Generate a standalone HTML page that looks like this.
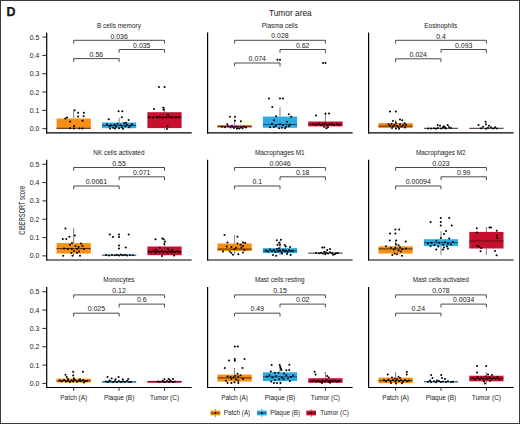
<!DOCTYPE html>
<html><head><meta charset="utf-8"><style>
html,body{margin:0;padding:0;background:#fff;}
body{width:520px;height:424px;overflow:hidden;position:relative;}
svg{position:absolute;left:0;top:0;display:block;}
text{font-family:"Liberation Sans",sans-serif;fill:#1a1a1a;}
</style></head><body>
<svg width="520" height="424" viewBox="0 0 520 424">
<g opacity="0.999">
<rect x="0.5" y="0.5" width="519" height="423" fill="#fff" stroke="#3a3a3a" stroke-width="1"/>
<text x="6.5" y="15.85" font-size="12.4" font-weight="bold" fill="#000" stroke="#000" stroke-width="0.25">D</text>
<text x="290.3" y="15.7" font-size="8.35" text-anchor="middle">Tumor area</text>
<text transform="translate(24.6,210.3) rotate(-90)" font-size="9.6" text-anchor="middle" textLength="48.8" lengthAdjust="spacingAndGlyphs">CIBERSORT score</text>
<text x="118.90" y="27.60" font-size="6.45" text-anchor="middle">B cells memory</text>
<line x1="73.70" y1="110.10" x2="73.70" y2="118.50" stroke="#111" stroke-width="0.55"/>
<line x1="73.70" y1="128.70" x2="73.70" y2="128.70" stroke="#111" stroke-width="0.55"/>
<rect x="56.60" y="118.50" width="34.2" height="10.20" fill="#F68F14"/>
<line x1="56.60" y1="128.30" x2="90.80" y2="128.30" stroke="#4a2400" stroke-width="0.95"/>
<line x1="119.10" y1="117.90" x2="119.10" y2="122.50" stroke="#111" stroke-width="0.55"/>
<line x1="119.10" y1="128.20" x2="119.10" y2="128.60" stroke="#111" stroke-width="0.55"/>
<rect x="102.00" y="122.50" width="34.2" height="5.70" fill="#2BABE2"/>
<line x1="102.00" y1="125.50" x2="136.20" y2="125.50" stroke="#0f4560" stroke-width="0.95"/>
<line x1="164.50" y1="107.30" x2="164.50" y2="112.20" stroke="#111" stroke-width="0.55"/>
<line x1="164.50" y1="128.10" x2="164.50" y2="129.50" stroke="#111" stroke-width="0.55"/>
<rect x="147.40" y="112.20" width="34.2" height="15.90" fill="#C8102E"/>
<line x1="147.40" y1="117.30" x2="181.60" y2="117.30" stroke="#5e0818" stroke-width="0.95"/>
<circle cx="65.3" cy="118.4" r="1.02"/>
<circle cx="67.0" cy="117.6" r="1.02"/>
<circle cx="74.6" cy="110.2" r="1.02"/>
<circle cx="78.1" cy="112.7" r="1.02"/>
<circle cx="83.9" cy="112.7" r="1.02"/>
<circle cx="78.1" cy="116.4" r="1.02"/>
<circle cx="83.7" cy="116.2" r="1.02"/>
<circle cx="70.1" cy="121.4" r="1.02"/>
<circle cx="82.5" cy="120.8" r="1.02"/>
<circle cx="74.1" cy="126.0" r="1.02"/>
<circle cx="70.1" cy="128.2" r="1.02"/>
<circle cx="74.0" cy="128.6" r="1.02"/>
<circle cx="79.4" cy="128.6" r="1.02"/>
<circle cx="82.5" cy="128.6" r="1.02"/>
<circle cx="118.6" cy="111.3" r="1.02"/>
<circle cx="122.3" cy="111.3" r="1.02"/>
<circle cx="108.8" cy="119.3" r="1.02"/>
<circle cx="121.9" cy="117.3" r="1.02"/>
<circle cx="128.6" cy="119.9" r="1.02"/>
<circle cx="107.0" cy="124.3" r="1.02"/>
<circle cx="109.5" cy="126.3" r="1.02"/>
<circle cx="111.0" cy="125.3" r="1.02"/>
<circle cx="113.0" cy="127.8" r="1.02"/>
<circle cx="114.5" cy="124.8" r="1.02"/>
<circle cx="116.0" cy="126.8" r="1.02"/>
<circle cx="117.5" cy="123.8" r="1.02"/>
<circle cx="119.0" cy="128.3" r="1.02"/>
<circle cx="120.5" cy="125.3" r="1.02"/>
<circle cx="122.0" cy="127.3" r="1.02"/>
<circle cx="124.0" cy="123.3" r="1.02"/>
<circle cx="125.5" cy="126.3" r="1.02"/>
<circle cx="127.0" cy="124.8" r="1.02"/>
<circle cx="129.0" cy="127.3" r="1.02"/>
<circle cx="130.5" cy="125.8" r="1.02"/>
<circle cx="132.0" cy="124.3" r="1.02"/>
<circle cx="110.0" cy="128.5" r="1.02"/>
<circle cx="115.0" cy="128.6" r="1.02"/>
<circle cx="123.0" cy="128.8" r="1.02"/>
<circle cx="126.0" cy="122.8" r="1.02"/>
<circle cx="159.0" cy="87.0" r="1.02"/>
<circle cx="164.6" cy="87.0" r="1.02"/>
<circle cx="154.0" cy="108.9" r="1.02"/>
<circle cx="163.2" cy="107.8" r="1.02"/>
<circle cx="163.6" cy="109.7" r="1.02"/>
<circle cx="168.0" cy="114.7" r="1.02"/>
<circle cx="167.5" cy="126.3" r="1.02"/>
<circle cx="167.0" cy="128.9" r="1.02"/>
<circle cx="149.0" cy="117.3" r="1.02"/>
<circle cx="153.0" cy="117.6" r="1.02"/>
<circle cx="157.0" cy="117.3" r="1.02"/>
<circle cx="160.0" cy="116.9" r="1.02"/>
<circle cx="163.0" cy="117.7" r="1.02"/>
<circle cx="166.0" cy="117.3" r="1.02"/>
<circle cx="170.0" cy="116.8" r="1.02"/>
<circle cx="172.5" cy="117.5" r="1.02"/>
<circle cx="176.0" cy="117.3" r="1.02"/>
<circle cx="179.0" cy="117.3" r="1.02"/>
<path d="M73.70 43.60V40.30H164.50V43.60" fill="none" stroke="#2a2a2a" stroke-width="0.85"/>
<text x="119.10" y="38.70" font-size="6.5" text-anchor="middle" textLength="17.39" lengthAdjust="spacingAndGlyphs">0.036</text>
<path d="M119.10 52.80V49.50H164.50V52.80" fill="none" stroke="#2a2a2a" stroke-width="0.85"/>
<text x="141.80" y="47.90" font-size="6.5" text-anchor="middle" textLength="17.39" lengthAdjust="spacingAndGlyphs">0.035</text>
<path d="M73.70 61.90V58.60H119.10V61.90" fill="none" stroke="#2a2a2a" stroke-width="0.85"/>
<text x="96.40" y="56.70" font-size="6.5" text-anchor="middle" textLength="13.52" lengthAdjust="spacingAndGlyphs">0.56</text>
<line x1="46.70" y1="32.50" x2="46.70" y2="133.40" stroke="#000" stroke-width="1.2"/>
<line x1="46.10" y1="132.80" x2="191.70" y2="132.80" stroke="#000" stroke-width="1.2"/>
<line x1="42.40" y1="128.70" x2="46.70" y2="128.70" stroke="#000" stroke-width="0.85"/>
<text x="39.30" y="131.20" font-size="6.9" text-anchor="end">0.0</text>
<line x1="42.40" y1="110.37" x2="46.70" y2="110.37" stroke="#000" stroke-width="0.85"/>
<text x="39.30" y="112.87" font-size="6.9" text-anchor="end">0.1</text>
<line x1="42.40" y1="92.04" x2="46.70" y2="92.04" stroke="#000" stroke-width="0.85"/>
<text x="39.30" y="94.54" font-size="6.9" text-anchor="end">0.2</text>
<line x1="42.40" y1="73.71" x2="46.70" y2="73.71" stroke="#000" stroke-width="0.85"/>
<text x="39.30" y="76.21" font-size="6.9" text-anchor="end">0.3</text>
<line x1="42.40" y1="55.38" x2="46.70" y2="55.38" stroke="#000" stroke-width="0.85"/>
<text x="39.30" y="57.88" font-size="6.9" text-anchor="end">0.4</text>
<line x1="42.40" y1="37.05" x2="46.70" y2="37.05" stroke="#000" stroke-width="0.85"/>
<text x="39.30" y="39.55" font-size="6.9" text-anchor="end">0.5</text>
<text x="279.80" y="27.60" font-size="6.45" text-anchor="middle">Plasma cells</text>
<line x1="234.60" y1="119.30" x2="234.60" y2="125.00" stroke="#111" stroke-width="0.55"/>
<line x1="234.60" y1="127.80" x2="234.60" y2="128.30" stroke="#111" stroke-width="0.55"/>
<rect x="217.50" y="125.00" width="34.2" height="2.80" fill="#F68F14"/>
<line x1="217.50" y1="126.40" x2="251.70" y2="126.40" stroke="#4a2400" stroke-width="0.95"/>
<line x1="280.00" y1="107.10" x2="280.00" y2="116.60" stroke="#111" stroke-width="0.55"/>
<line x1="280.00" y1="127.80" x2="280.00" y2="128.60" stroke="#111" stroke-width="0.55"/>
<rect x="262.90" y="116.60" width="34.2" height="11.20" fill="#2BABE2"/>
<line x1="262.90" y1="124.50" x2="297.10" y2="124.50" stroke="#0f4560" stroke-width="0.95"/>
<line x1="325.40" y1="113.60" x2="325.40" y2="121.50" stroke="#111" stroke-width="0.55"/>
<line x1="325.40" y1="126.40" x2="325.40" y2="128.50" stroke="#111" stroke-width="0.55"/>
<rect x="308.30" y="121.50" width="34.2" height="4.90" fill="#C8102E"/>
<line x1="308.30" y1="124.30" x2="342.50" y2="124.30" stroke="#5e0818" stroke-width="0.95"/>
<circle cx="230.0" cy="116.8" r="1.02"/>
<circle cx="235.0" cy="116.8" r="1.02"/>
<circle cx="235.0" cy="120.7" r="1.02"/>
<circle cx="240.9" cy="121.3" r="1.02"/>
<circle cx="227.3" cy="124.3" r="1.02"/>
<circle cx="222.0" cy="126.8" r="1.02"/>
<circle cx="225.0" cy="127.3" r="1.02"/>
<circle cx="228.0" cy="126.3" r="1.02"/>
<circle cx="230.5" cy="127.6" r="1.02"/>
<circle cx="232.0" cy="125.8" r="1.02"/>
<circle cx="234.0" cy="128.1" r="1.02"/>
<circle cx="236.0" cy="126.7" r="1.02"/>
<circle cx="238.0" cy="127.9" r="1.02"/>
<circle cx="239.5" cy="128.5" r="1.02"/>
<circle cx="241.0" cy="127.3" r="1.02"/>
<circle cx="242.5" cy="128.3" r="1.02"/>
<circle cx="244.0" cy="126.8" r="1.02"/>
<circle cx="246.0" cy="127.5" r="1.02"/>
<circle cx="237.0" cy="128.8" r="1.02"/>
<circle cx="233.0" cy="127.1" r="1.02"/>
<circle cx="277.4" cy="59.8" r="1.02"/>
<circle cx="280.0" cy="59.8" r="1.02"/>
<circle cx="268.9" cy="98.6" r="1.02"/>
<circle cx="280.0" cy="98.6" r="1.02"/>
<circle cx="283.0" cy="98.6" r="1.02"/>
<circle cx="272.3" cy="107.1" r="1.02"/>
<circle cx="288.8" cy="114.2" r="1.02"/>
<circle cx="276.0" cy="116.3" r="1.02"/>
<circle cx="291.2" cy="116.8" r="1.02"/>
<circle cx="274.0" cy="120.3" r="1.02"/>
<circle cx="287.0" cy="121.7" r="1.02"/>
<circle cx="280.0" cy="124.3" r="1.02"/>
<circle cx="283.0" cy="124.9" r="1.02"/>
<circle cx="288.8" cy="126.3" r="1.02"/>
<circle cx="274.0" cy="127.0" r="1.02"/>
<circle cx="285.0" cy="128.3" r="1.02"/>
<circle cx="279.0" cy="128.3" r="1.02"/>
<circle cx="276.0" cy="125.8" r="1.02"/>
<circle cx="270.0" cy="127.3" r="1.02"/>
<circle cx="282.0" cy="127.8" r="1.02"/>
<circle cx="290.0" cy="124.8" r="1.02"/>
<circle cx="272.0" cy="123.8" r="1.02"/>
<circle cx="286.0" cy="126.8" r="1.02"/>
<circle cx="323.0" cy="62.9" r="1.02"/>
<circle cx="325.5" cy="62.9" r="1.02"/>
<circle cx="316.0" cy="115.6" r="1.02"/>
<circle cx="325.5" cy="113.6" r="1.02"/>
<circle cx="329.0" cy="113.6" r="1.02"/>
<circle cx="326.6" cy="128.3" r="1.02"/>
<circle cx="313.0" cy="124.3" r="1.02"/>
<circle cx="316.0" cy="124.8" r="1.02"/>
<circle cx="319.0" cy="123.8" r="1.02"/>
<circle cx="321.0" cy="125.3" r="1.02"/>
<circle cx="323.0" cy="124.3" r="1.02"/>
<circle cx="325.0" cy="123.3" r="1.02"/>
<circle cx="327.0" cy="125.5" r="1.02"/>
<circle cx="329.5" cy="124.5" r="1.02"/>
<circle cx="332.0" cy="124.1" r="1.02"/>
<circle cx="334.0" cy="125.1" r="1.02"/>
<circle cx="337.0" cy="124.3" r="1.02"/>
<circle cx="339.0" cy="124.8" r="1.02"/>
<circle cx="324.0" cy="126.8" r="1.02"/>
<circle cx="328.0" cy="127.3" r="1.02"/>
<path d="M234.60 43.60V40.30H325.40V43.60" fill="none" stroke="#2a2a2a" stroke-width="0.85"/>
<text x="280.00" y="38.30" font-size="6.5" text-anchor="middle" textLength="17.39" lengthAdjust="spacingAndGlyphs">0.028</text>
<path d="M280.00 52.80V49.50H325.40V52.80" fill="none" stroke="#2a2a2a" stroke-width="0.85"/>
<text x="302.70" y="47.90" font-size="6.5" text-anchor="middle" textLength="13.52" lengthAdjust="spacingAndGlyphs">0.62</text>
<path d="M234.60 66.30V63.00H280.00V66.30" fill="none" stroke="#2a2a2a" stroke-width="0.85"/>
<text x="257.30" y="61.00" font-size="6.5" text-anchor="middle" textLength="17.39" lengthAdjust="spacingAndGlyphs">0.074</text>
<line x1="207.60" y1="32.50" x2="207.60" y2="133.40" stroke="#000" stroke-width="1.2"/>
<line x1="207.00" y1="132.80" x2="352.60" y2="132.80" stroke="#000" stroke-width="1.2"/>
<text x="440.80" y="27.60" font-size="6.45" text-anchor="middle">Eosinophils</text>
<line x1="395.60" y1="119.80" x2="395.60" y2="123.10" stroke="#111" stroke-width="0.55"/>
<line x1="395.60" y1="128.00" x2="395.60" y2="128.60" stroke="#111" stroke-width="0.55"/>
<rect x="378.50" y="123.10" width="34.2" height="4.90" fill="#F68F14"/>
<line x1="378.50" y1="126.10" x2="412.70" y2="126.10" stroke="#4a2400" stroke-width="0.95"/>
<line x1="441.00" y1="128.30" x2="441.00" y2="128.30" stroke="#111" stroke-width="0.55"/>
<line x1="441.00" y1="128.30" x2="441.00" y2="128.30" stroke="#111" stroke-width="0.55"/>
<line x1="423.90" y1="128.30" x2="458.10" y2="128.30" stroke="#0c2230" stroke-width="0.9"/>
<line x1="486.40" y1="128.30" x2="486.40" y2="128.30" stroke="#111" stroke-width="0.55"/>
<line x1="486.40" y1="128.30" x2="486.40" y2="128.30" stroke="#111" stroke-width="0.55"/>
<line x1="469.30" y1="128.30" x2="503.50" y2="128.30" stroke="#2a060c" stroke-width="0.9"/>
<circle cx="390.0" cy="111.5" r="1.02"/>
<circle cx="395.8" cy="111.5" r="1.02"/>
<circle cx="400.0" cy="119.5" r="1.02"/>
<circle cx="402.3" cy="120.3" r="1.02"/>
<circle cx="393.0" cy="121.1" r="1.02"/>
<circle cx="404.6" cy="123.3" r="1.02"/>
<circle cx="388.5" cy="124.3" r="1.02"/>
<circle cx="390.0" cy="125.8" r="1.02"/>
<circle cx="391.5" cy="123.8" r="1.02"/>
<circle cx="393.0" cy="126.3" r="1.02"/>
<circle cx="394.5" cy="124.8" r="1.02"/>
<circle cx="396.0" cy="122.8" r="1.02"/>
<circle cx="397.0" cy="125.8" r="1.02"/>
<circle cx="398.5" cy="127.3" r="1.02"/>
<circle cx="400.0" cy="124.3" r="1.02"/>
<circle cx="401.5" cy="126.8" r="1.02"/>
<circle cx="403.0" cy="125.3" r="1.02"/>
<circle cx="405.0" cy="127.6" r="1.02"/>
<circle cx="392.0" cy="128.1" r="1.02"/>
<circle cx="396.0" cy="128.6" r="1.02"/>
<circle cx="399.0" cy="128.8" r="1.02"/>
<circle cx="406.0" cy="124.8" r="1.02"/>
<circle cx="437.7" cy="124.9" r="1.02"/>
<circle cx="447.7" cy="124.9" r="1.02"/>
<circle cx="443.7" cy="126.3" r="1.02"/>
<circle cx="440.0" cy="125.7" r="1.02"/>
<circle cx="445.0" cy="127.3" r="1.02"/>
<circle cx="428.0" cy="128.5" r="1.02"/>
<circle cx="431.0" cy="128.6" r="1.02"/>
<circle cx="434.0" cy="128.3" r="1.02"/>
<circle cx="436.0" cy="128.7" r="1.02"/>
<circle cx="438.0" cy="127.9" r="1.02"/>
<circle cx="441.0" cy="128.5" r="1.02"/>
<circle cx="443.0" cy="127.5" r="1.02"/>
<circle cx="446.0" cy="128.6" r="1.02"/>
<circle cx="449.0" cy="127.1" r="1.02"/>
<circle cx="451.0" cy="128.1" r="1.02"/>
<circle cx="485.5" cy="121.8" r="1.02"/>
<circle cx="478.5" cy="124.9" r="1.02"/>
<circle cx="489.0" cy="125.8" r="1.02"/>
<circle cx="495.0" cy="127.3" r="1.02"/>
<circle cx="486.0" cy="124.3" r="1.02"/>
<circle cx="483.0" cy="126.8" r="1.02"/>
<circle cx="488.0" cy="127.8" r="1.02"/>
<circle cx="491.0" cy="127.3" r="1.02"/>
<circle cx="493.0" cy="128.5" r="1.02"/>
<circle cx="497.0" cy="128.6" r="1.02"/>
<circle cx="481.0" cy="128.3" r="1.02"/>
<circle cx="486.0" cy="128.7" r="1.02"/>
<path d="M395.60 43.60V40.30H486.40V43.60" fill="none" stroke="#2a2a2a" stroke-width="0.85"/>
<text x="441.00" y="38.50" font-size="6.5" text-anchor="middle" textLength="9.66" lengthAdjust="spacingAndGlyphs">0.4</text>
<path d="M441.00 52.80V49.50H486.40V52.80" fill="none" stroke="#2a2a2a" stroke-width="0.85"/>
<text x="463.70" y="47.80" font-size="6.5" text-anchor="middle" textLength="17.39" lengthAdjust="spacingAndGlyphs">0.093</text>
<path d="M395.60 62.10V58.80H441.00V62.10" fill="none" stroke="#2a2a2a" stroke-width="0.85"/>
<text x="418.30" y="56.50" font-size="6.5" text-anchor="middle" textLength="17.39" lengthAdjust="spacingAndGlyphs">0.024</text>
<line x1="368.60" y1="32.50" x2="368.60" y2="133.40" stroke="#000" stroke-width="1.2"/>
<line x1="368.00" y1="132.80" x2="513.60" y2="132.80" stroke="#000" stroke-width="1.2"/>
<text x="118.90" y="154.90" font-size="6.45" text-anchor="middle">NK cells activated</text>
<line x1="73.70" y1="227.80" x2="73.70" y2="243.10" stroke="#111" stroke-width="0.55"/>
<line x1="73.70" y1="253.50" x2="73.70" y2="255.80" stroke="#111" stroke-width="0.55"/>
<rect x="56.60" y="243.10" width="34.2" height="10.40" fill="#F68F14"/>
<line x1="56.60" y1="248.60" x2="90.80" y2="248.60" stroke="#4a2400" stroke-width="0.95"/>
<line x1="119.10" y1="254.80" x2="119.10" y2="254.80" stroke="#111" stroke-width="0.55"/>
<line x1="119.10" y1="255.60" x2="119.10" y2="255.60" stroke="#111" stroke-width="0.55"/>
<rect x="102.00" y="254.75" width="34.2" height="0.90" fill="#2BABE2"/>
<line x1="102.00" y1="255.20" x2="136.20" y2="255.20" stroke="#0f4560" stroke-width="0.7"/>
<line x1="164.50" y1="240.80" x2="164.50" y2="246.50" stroke="#111" stroke-width="0.55"/>
<line x1="164.50" y1="255.20" x2="164.50" y2="255.70" stroke="#111" stroke-width="0.55"/>
<rect x="147.40" y="246.50" width="34.2" height="8.70" fill="#C8102E"/>
<line x1="147.40" y1="251.70" x2="181.60" y2="251.70" stroke="#5e0818" stroke-width="0.95"/>
<circle cx="65.5" cy="228.6" r="1.02"/>
<circle cx="74.8" cy="235.5" r="1.02"/>
<circle cx="69.4" cy="236.7" r="1.02"/>
<circle cx="62.8" cy="238.9" r="1.02"/>
<circle cx="66.3" cy="238.9" r="1.02"/>
<circle cx="72.0" cy="242.9" r="1.02"/>
<circle cx="81.0" cy="243.5" r="1.02"/>
<circle cx="70.0" cy="244.7" r="1.02"/>
<circle cx="75.5" cy="246.1" r="1.02"/>
<circle cx="78.6" cy="247.1" r="1.02"/>
<circle cx="82.5" cy="246.1" r="1.02"/>
<circle cx="64.0" cy="248.6" r="1.02"/>
<circle cx="67.8" cy="249.0" r="1.02"/>
<circle cx="71.7" cy="249.1" r="1.02"/>
<circle cx="77.0" cy="249.1" r="1.02"/>
<circle cx="84.0" cy="249.1" r="1.02"/>
<circle cx="74.0" cy="250.9" r="1.02"/>
<circle cx="79.0" cy="251.6" r="1.02"/>
<circle cx="77.0" cy="252.7" r="1.02"/>
<circle cx="71.4" cy="253.1" r="1.02"/>
<circle cx="63.2" cy="255.8" r="1.02"/>
<circle cx="72.5" cy="255.8" r="1.02"/>
<circle cx="80.0" cy="255.8" r="1.02"/>
<circle cx="109.8" cy="234.5" r="1.02"/>
<circle cx="113.0" cy="237.1" r="1.02"/>
<circle cx="119.0" cy="234.5" r="1.02"/>
<circle cx="119.0" cy="237.1" r="1.02"/>
<circle cx="128.7" cy="234.5" r="1.02"/>
<circle cx="119.0" cy="245.5" r="1.02"/>
<circle cx="119.0" cy="248.6" r="1.02"/>
<circle cx="125.8" cy="247.4" r="1.02"/>
<circle cx="106.0" cy="255.1" r="1.02"/>
<circle cx="109.0" cy="255.4" r="1.02"/>
<circle cx="112.0" cy="254.9" r="1.02"/>
<circle cx="115.0" cy="255.3" r="1.02"/>
<circle cx="117.0" cy="254.7" r="1.02"/>
<circle cx="119.0" cy="255.5" r="1.02"/>
<circle cx="121.0" cy="254.4" r="1.02"/>
<circle cx="123.0" cy="255.3" r="1.02"/>
<circle cx="125.0" cy="254.7" r="1.02"/>
<circle cx="127.0" cy="255.4" r="1.02"/>
<circle cx="130.0" cy="255.1" r="1.02"/>
<circle cx="133.0" cy="255.3" r="1.02"/>
<circle cx="155.6" cy="239.3" r="1.02"/>
<circle cx="162.3" cy="238.4" r="1.02"/>
<circle cx="163.7" cy="239.3" r="1.02"/>
<circle cx="164.3" cy="244.1" r="1.02"/>
<circle cx="165.0" cy="241.6" r="1.02"/>
<circle cx="149.5" cy="251.6" r="1.02"/>
<circle cx="151.5" cy="252.3" r="1.02"/>
<circle cx="153.5" cy="251.1" r="1.02"/>
<circle cx="155.5" cy="252.5" r="1.02"/>
<circle cx="157.5" cy="251.3" r="1.02"/>
<circle cx="159.5" cy="252.1" r="1.02"/>
<circle cx="161.5" cy="250.9" r="1.02"/>
<circle cx="163.5" cy="252.4" r="1.02"/>
<circle cx="165.5" cy="251.4" r="1.02"/>
<circle cx="167.5" cy="252.6" r="1.02"/>
<circle cx="169.5" cy="251.1" r="1.02"/>
<circle cx="171.5" cy="252.3" r="1.02"/>
<circle cx="173.5" cy="251.5" r="1.02"/>
<circle cx="175.5" cy="252.1" r="1.02"/>
<circle cx="177.5" cy="251.3" r="1.02"/>
<circle cx="179.5" cy="251.9" r="1.02"/>
<circle cx="160.0" cy="247.7" r="1.02"/>
<circle cx="168.0" cy="248.7" r="1.02"/>
<circle cx="156.0" cy="249.7" r="1.02"/>
<circle cx="172.0" cy="249.9" r="1.02"/>
<circle cx="162.0" cy="255.9" r="1.02"/>
<circle cx="174.1" cy="255.5" r="1.02"/>
<path d="M73.70 170.80V167.50H164.50V170.80" fill="none" stroke="#2a2a2a" stroke-width="0.85"/>
<text x="119.10" y="166.00" font-size="6.5" text-anchor="middle" textLength="13.52" lengthAdjust="spacingAndGlyphs">0.55</text>
<path d="M119.10 180.10V176.80H164.50V180.10" fill="none" stroke="#2a2a2a" stroke-width="0.85"/>
<text x="141.80" y="175.30" font-size="6.5" text-anchor="middle" textLength="17.39" lengthAdjust="spacingAndGlyphs">0.071</text>
<path d="M73.70 189.30V186.00H119.10V189.30" fill="none" stroke="#2a2a2a" stroke-width="0.85"/>
<text x="96.40" y="184.10" font-size="6.5" text-anchor="middle" textLength="21.25" lengthAdjust="spacingAndGlyphs">0.0061</text>
<line x1="46.70" y1="159.80" x2="46.70" y2="260.60" stroke="#000" stroke-width="1.2"/>
<line x1="46.10" y1="260.00" x2="191.70" y2="260.00" stroke="#000" stroke-width="1.2"/>
<line x1="42.40" y1="255.90" x2="46.70" y2="255.90" stroke="#000" stroke-width="0.85"/>
<text x="39.30" y="258.40" font-size="6.9" text-anchor="end">0.0</text>
<line x1="42.40" y1="237.57" x2="46.70" y2="237.57" stroke="#000" stroke-width="0.85"/>
<text x="39.30" y="240.07" font-size="6.9" text-anchor="end">0.1</text>
<line x1="42.40" y1="219.24" x2="46.70" y2="219.24" stroke="#000" stroke-width="0.85"/>
<text x="39.30" y="221.74" font-size="6.9" text-anchor="end">0.2</text>
<line x1="42.40" y1="200.91" x2="46.70" y2="200.91" stroke="#000" stroke-width="0.85"/>
<text x="39.30" y="203.41" font-size="6.9" text-anchor="end">0.3</text>
<line x1="42.40" y1="182.58" x2="46.70" y2="182.58" stroke="#000" stroke-width="0.85"/>
<text x="39.30" y="185.08" font-size="6.9" text-anchor="end">0.4</text>
<line x1="42.40" y1="164.25" x2="46.70" y2="164.25" stroke="#000" stroke-width="0.85"/>
<text x="39.30" y="166.75" font-size="6.9" text-anchor="end">0.5</text>
<text x="279.80" y="154.90" font-size="6.45" text-anchor="middle">Macrophages M1</text>
<line x1="234.60" y1="235.10" x2="234.60" y2="243.50" stroke="#111" stroke-width="0.55"/>
<line x1="234.60" y1="251.00" x2="234.60" y2="254.30" stroke="#111" stroke-width="0.55"/>
<rect x="217.50" y="243.50" width="34.2" height="7.50" fill="#F68F14"/>
<line x1="217.50" y1="249.10" x2="251.70" y2="249.10" stroke="#4a2400" stroke-width="0.95"/>
<line x1="280.00" y1="240.60" x2="280.00" y2="248.10" stroke="#111" stroke-width="0.55"/>
<line x1="280.00" y1="253.10" x2="280.00" y2="255.30" stroke="#111" stroke-width="0.55"/>
<rect x="262.90" y="248.10" width="34.2" height="5.00" fill="#2BABE2"/>
<line x1="262.90" y1="251.00" x2="297.10" y2="251.00" stroke="#0f4560" stroke-width="0.95"/>
<line x1="325.40" y1="253.10" x2="325.40" y2="253.10" stroke="#111" stroke-width="0.55"/>
<line x1="325.40" y1="253.10" x2="325.40" y2="253.10" stroke="#111" stroke-width="0.55"/>
<line x1="308.30" y1="253.10" x2="342.50" y2="253.10" stroke="#2a060c" stroke-width="0.9"/>
<circle cx="224.5" cy="235.1" r="1.02"/>
<circle cx="237.5" cy="236.7" r="1.02"/>
<circle cx="227.5" cy="242.4" r="1.02"/>
<circle cx="243.0" cy="242.4" r="1.02"/>
<circle cx="245.2" cy="243.1" r="1.02"/>
<circle cx="237.5" cy="243.5" r="1.02"/>
<circle cx="240.6" cy="244.7" r="1.02"/>
<circle cx="243.0" cy="245.9" r="1.02"/>
<circle cx="226.8" cy="246.6" r="1.02"/>
<circle cx="231.4" cy="247.1" r="1.02"/>
<circle cx="236.0" cy="247.8" r="1.02"/>
<circle cx="241.4" cy="247.8" r="1.02"/>
<circle cx="234.5" cy="249.3" r="1.02"/>
<circle cx="244.5" cy="250.1" r="1.02"/>
<circle cx="223.0" cy="251.6" r="1.02"/>
<circle cx="229.8" cy="251.6" r="1.02"/>
<circle cx="243.0" cy="252.4" r="1.02"/>
<circle cx="231.4" cy="253.1" r="1.02"/>
<circle cx="233.0" cy="254.7" r="1.02"/>
<circle cx="238.3" cy="254.3" r="1.02"/>
<circle cx="276.8" cy="240.3" r="1.02"/>
<circle cx="281.0" cy="239.7" r="1.02"/>
<circle cx="279.0" cy="242.8" r="1.02"/>
<circle cx="277.5" cy="245.1" r="1.02"/>
<circle cx="280.0" cy="244.7" r="1.02"/>
<circle cx="284.8" cy="245.1" r="1.02"/>
<circle cx="285.8" cy="246.6" r="1.02"/>
<circle cx="290.2" cy="247.1" r="1.02"/>
<circle cx="273.0" cy="255.1" r="1.02"/>
<circle cx="276.2" cy="255.7" r="1.02"/>
<circle cx="290.6" cy="255.1" r="1.02"/>
<circle cx="266.0" cy="250.6" r="1.02"/>
<circle cx="268.0" cy="251.6" r="1.02"/>
<circle cx="270.0" cy="249.6" r="1.02"/>
<circle cx="272.0" cy="251.1" r="1.02"/>
<circle cx="274.0" cy="250.1" r="1.02"/>
<circle cx="275.5" cy="252.1" r="1.02"/>
<circle cx="277.0" cy="249.1" r="1.02"/>
<circle cx="278.5" cy="251.3" r="1.02"/>
<circle cx="280.0" cy="250.3" r="1.02"/>
<circle cx="281.5" cy="252.3" r="1.02"/>
<circle cx="283.0" cy="249.7" r="1.02"/>
<circle cx="284.5" cy="251.1" r="1.02"/>
<circle cx="286.0" cy="250.5" r="1.02"/>
<circle cx="287.5" cy="252.1" r="1.02"/>
<circle cx="289.0" cy="249.9" r="1.02"/>
<circle cx="291.0" cy="251.1" r="1.02"/>
<circle cx="293.0" cy="250.7" r="1.02"/>
<circle cx="282.0" cy="253.6" r="1.02"/>
<circle cx="287.0" cy="253.9" r="1.02"/>
<circle cx="279.0" cy="248.3" r="1.02"/>
<circle cx="322.3" cy="247.4" r="1.02"/>
<circle cx="324.3" cy="247.4" r="1.02"/>
<circle cx="330.0" cy="248.9" r="1.02"/>
<circle cx="327.2" cy="249.9" r="1.02"/>
<circle cx="324.3" cy="251.8" r="1.02"/>
<circle cx="325.2" cy="254.3" r="1.02"/>
<circle cx="333.0" cy="254.7" r="1.02"/>
<circle cx="334.8" cy="254.3" r="1.02"/>
<circle cx="316.0" cy="253.1" r="1.02"/>
<circle cx="319.0" cy="253.3" r="1.02"/>
<circle cx="321.0" cy="252.7" r="1.02"/>
<circle cx="323.0" cy="253.4" r="1.02"/>
<circle cx="326.0" cy="252.6" r="1.02"/>
<circle cx="328.0" cy="253.5" r="1.02"/>
<circle cx="330.0" cy="252.3" r="1.02"/>
<circle cx="332.0" cy="253.1" r="1.02"/>
<circle cx="336.0" cy="253.3" r="1.02"/>
<circle cx="338.0" cy="252.9" r="1.02"/>
<path d="M234.60 170.80V167.50H325.40V170.80" fill="none" stroke="#2a2a2a" stroke-width="0.85"/>
<text x="280.00" y="166.00" font-size="6.5" text-anchor="middle" textLength="21.25" lengthAdjust="spacingAndGlyphs">0.0046</text>
<path d="M280.00 180.10V176.80H325.40V180.10" fill="none" stroke="#2a2a2a" stroke-width="0.85"/>
<text x="302.70" y="175.30" font-size="6.5" text-anchor="middle" textLength="13.52" lengthAdjust="spacingAndGlyphs">0.18</text>
<path d="M234.60 189.30V186.00H280.00V189.30" fill="none" stroke="#2a2a2a" stroke-width="0.85"/>
<text x="257.30" y="184.10" font-size="6.5" text-anchor="middle" textLength="9.66" lengthAdjust="spacingAndGlyphs">0.1</text>
<line x1="207.60" y1="159.80" x2="207.60" y2="260.60" stroke="#000" stroke-width="1.2"/>
<line x1="207.00" y1="260.00" x2="352.60" y2="260.00" stroke="#000" stroke-width="1.2"/>
<text x="440.80" y="154.90" font-size="6.45" text-anchor="middle">Macrophages M2</text>
<line x1="395.60" y1="239.60" x2="395.60" y2="246.30" stroke="#111" stroke-width="0.55"/>
<line x1="395.60" y1="253.50" x2="395.60" y2="254.30" stroke="#111" stroke-width="0.55"/>
<rect x="378.50" y="246.30" width="34.2" height="7.20" fill="#F68F14"/>
<line x1="378.50" y1="248.90" x2="412.70" y2="248.90" stroke="#4a2400" stroke-width="0.95"/>
<line x1="441.00" y1="231.10" x2="441.00" y2="239.20" stroke="#111" stroke-width="0.55"/>
<line x1="441.00" y1="246.10" x2="441.00" y2="254.60" stroke="#111" stroke-width="0.55"/>
<rect x="423.90" y="239.20" width="34.2" height="6.90" fill="#2BABE2"/>
<line x1="423.90" y1="242.70" x2="458.10" y2="242.70" stroke="#0f4560" stroke-width="0.95"/>
<line x1="486.40" y1="227.00" x2="486.40" y2="231.90" stroke="#111" stroke-width="0.55"/>
<line x1="486.40" y1="248.50" x2="486.40" y2="254.70" stroke="#111" stroke-width="0.55"/>
<rect x="469.30" y="231.90" width="34.2" height="16.60" fill="#C8102E"/>
<line x1="469.30" y1="241.00" x2="503.50" y2="241.00" stroke="#5e0818" stroke-width="0.95"/>
<circle cx="395.4" cy="229.6" r="1.02"/>
<circle cx="399.2" cy="229.6" r="1.02"/>
<circle cx="390.0" cy="233.5" r="1.02"/>
<circle cx="395.4" cy="233.5" r="1.02"/>
<circle cx="389.7" cy="240.4" r="1.02"/>
<circle cx="396.2" cy="240.4" r="1.02"/>
<circle cx="405.7" cy="241.6" r="1.02"/>
<circle cx="396.0" cy="244.3" r="1.02"/>
<circle cx="398.5" cy="245.3" r="1.02"/>
<circle cx="386.0" cy="246.3" r="1.02"/>
<circle cx="390.8" cy="247.8" r="1.02"/>
<circle cx="395.4" cy="247.8" r="1.02"/>
<circle cx="400.0" cy="247.3" r="1.02"/>
<circle cx="402.3" cy="249.3" r="1.02"/>
<circle cx="406.0" cy="248.4" r="1.02"/>
<circle cx="393.8" cy="249.6" r="1.02"/>
<circle cx="398.5" cy="250.4" r="1.02"/>
<circle cx="400.8" cy="251.5" r="1.02"/>
<circle cx="392.3" cy="255.1" r="1.02"/>
<circle cx="397.0" cy="254.3" r="1.02"/>
<circle cx="394.6" cy="253.5" r="1.02"/>
<circle cx="402.0" cy="255.8" r="1.02"/>
<circle cx="440.8" cy="218.1" r="1.02"/>
<circle cx="449.2" cy="218.1" r="1.02"/>
<circle cx="430.6" cy="221.9" r="1.02"/>
<circle cx="440.8" cy="221.9" r="1.02"/>
<circle cx="440.8" cy="225.4" r="1.02"/>
<circle cx="451.7" cy="225.4" r="1.02"/>
<circle cx="446.0" cy="231.1" r="1.02"/>
<circle cx="444.0" cy="234.1" r="1.02"/>
<circle cx="440.8" cy="237.9" r="1.02"/>
<circle cx="449.2" cy="238.5" r="1.02"/>
<circle cx="436.3" cy="240.8" r="1.02"/>
<circle cx="431.5" cy="242.7" r="1.02"/>
<circle cx="439.2" cy="242.7" r="1.02"/>
<circle cx="445.0" cy="242.3" r="1.02"/>
<circle cx="447.9" cy="243.7" r="1.02"/>
<circle cx="443.0" cy="244.6" r="1.02"/>
<circle cx="434.4" cy="245.1" r="1.02"/>
<circle cx="430.6" cy="246.1" r="1.02"/>
<circle cx="438.3" cy="246.6" r="1.02"/>
<circle cx="447.0" cy="246.6" r="1.02"/>
<circle cx="444.0" cy="247.5" r="1.02"/>
<circle cx="436.3" cy="249.4" r="1.02"/>
<circle cx="443.0" cy="249.4" r="1.02"/>
<circle cx="447.9" cy="248.5" r="1.02"/>
<circle cx="428.0" cy="243.6" r="1.02"/>
<circle cx="453.0" cy="242.1" r="1.02"/>
<circle cx="451.0" cy="244.6" r="1.02"/>
<circle cx="476.8" cy="228.3" r="1.02"/>
<circle cx="489.5" cy="227.4" r="1.02"/>
<circle cx="491.0" cy="227.4" r="1.02"/>
<circle cx="496.7" cy="230.8" r="1.02"/>
<circle cx="476.8" cy="232.5" r="1.02"/>
<circle cx="496.9" cy="235.4" r="1.02"/>
<circle cx="497.2" cy="238.0" r="1.02"/>
<circle cx="477.3" cy="245.8" r="1.02"/>
<circle cx="479.0" cy="246.4" r="1.02"/>
<circle cx="481.3" cy="247.9" r="1.02"/>
<circle cx="480.6" cy="251.3" r="1.02"/>
<circle cx="495.0" cy="251.1" r="1.02"/>
<circle cx="496.6" cy="255.3" r="1.02"/>
<path d="M395.60 170.80V167.50H486.40V170.80" fill="none" stroke="#2a2a2a" stroke-width="0.85"/>
<text x="441.00" y="166.00" font-size="6.5" text-anchor="middle" textLength="17.39" lengthAdjust="spacingAndGlyphs">0.023</text>
<path d="M441.00 180.10V176.80H486.40V180.10" fill="none" stroke="#2a2a2a" stroke-width="0.85"/>
<text x="463.70" y="175.30" font-size="6.5" text-anchor="middle" textLength="13.52" lengthAdjust="spacingAndGlyphs">0.99</text>
<path d="M395.60 189.30V186.00H441.00V189.30" fill="none" stroke="#2a2a2a" stroke-width="0.85"/>
<text x="418.30" y="184.10" font-size="6.5" text-anchor="middle" textLength="25.12" lengthAdjust="spacingAndGlyphs">0.00094</text>
<line x1="368.60" y1="159.80" x2="368.60" y2="260.60" stroke="#000" stroke-width="1.2"/>
<line x1="368.00" y1="260.00" x2="513.60" y2="260.00" stroke="#000" stroke-width="1.2"/>
<text x="118.90" y="282.10" font-size="6.45" text-anchor="middle">Monocytes</text>
<line x1="73.70" y1="377.10" x2="73.70" y2="378.60" stroke="#111" stroke-width="0.55"/>
<line x1="73.70" y1="382.50" x2="73.70" y2="383.10" stroke="#111" stroke-width="0.55"/>
<rect x="56.60" y="378.60" width="34.2" height="3.90" fill="#F68F14"/>
<line x1="56.60" y1="380.90" x2="90.80" y2="380.90" stroke="#4a2400" stroke-width="0.95"/>
<line x1="119.10" y1="381.20" x2="119.10" y2="381.20" stroke="#111" stroke-width="0.55"/>
<line x1="119.10" y1="382.60" x2="119.10" y2="382.60" stroke="#111" stroke-width="0.55"/>
<rect x="102.00" y="381.20" width="34.2" height="1.40" fill="#2BABE2"/>
<line x1="102.00" y1="381.90" x2="136.20" y2="381.90" stroke="#0f4560" stroke-width="0.7"/>
<line x1="164.50" y1="380.90" x2="164.50" y2="380.90" stroke="#111" stroke-width="0.55"/>
<line x1="164.50" y1="382.70" x2="164.50" y2="382.70" stroke="#111" stroke-width="0.55"/>
<rect x="147.40" y="380.90" width="34.2" height="1.80" fill="#C8102E"/>
<line x1="147.40" y1="381.80" x2="181.60" y2="381.80" stroke="#5e0818" stroke-width="0.7"/>
<circle cx="73.2" cy="371.8" r="1.02"/>
<circle cx="83.0" cy="371.8" r="1.02"/>
<circle cx="65.5" cy="374.7" r="1.02"/>
<circle cx="73.2" cy="375.5" r="1.02"/>
<circle cx="66.7" cy="377.1" r="1.02"/>
<circle cx="73.8" cy="378.6" r="1.02"/>
<circle cx="68.0" cy="378.9" r="1.02"/>
<circle cx="60.0" cy="380.6" r="1.02"/>
<circle cx="62.0" cy="381.3" r="1.02"/>
<circle cx="64.0" cy="380.1" r="1.02"/>
<circle cx="66.0" cy="381.6" r="1.02"/>
<circle cx="68.0" cy="380.7" r="1.02"/>
<circle cx="70.0" cy="381.9" r="1.02"/>
<circle cx="71.5" cy="380.3" r="1.02"/>
<circle cx="73.0" cy="381.5" r="1.02"/>
<circle cx="75.0" cy="380.1" r="1.02"/>
<circle cx="77.0" cy="381.7" r="1.02"/>
<circle cx="79.0" cy="380.5" r="1.02"/>
<circle cx="81.0" cy="381.3" r="1.02"/>
<circle cx="83.0" cy="380.1" r="1.02"/>
<circle cx="85.0" cy="381.1" r="1.02"/>
<circle cx="87.0" cy="380.9" r="1.02"/>
<circle cx="74.0" cy="379.6" r="1.02"/>
<circle cx="80.0" cy="379.3" r="1.02"/>
<circle cx="84.0" cy="382.4" r="1.02"/>
<circle cx="107.5" cy="377.1" r="1.02"/>
<circle cx="118.6" cy="377.1" r="1.02"/>
<circle cx="111.7" cy="378.6" r="1.02"/>
<circle cx="115.5" cy="379.3" r="1.02"/>
<circle cx="122.8" cy="379.3" r="1.02"/>
<circle cx="128.2" cy="378.9" r="1.02"/>
<circle cx="109.4" cy="380.5" r="1.02"/>
<circle cx="106.0" cy="381.6" r="1.02"/>
<circle cx="108.0" cy="382.1" r="1.02"/>
<circle cx="110.5" cy="381.3" r="1.02"/>
<circle cx="113.0" cy="381.9" r="1.02"/>
<circle cx="115.0" cy="380.9" r="1.02"/>
<circle cx="117.0" cy="382.1" r="1.02"/>
<circle cx="119.0" cy="381.1" r="1.02"/>
<circle cx="121.0" cy="381.9" r="1.02"/>
<circle cx="123.0" cy="381.3" r="1.02"/>
<circle cx="125.0" cy="382.1" r="1.02"/>
<circle cx="127.0" cy="380.7" r="1.02"/>
<circle cx="129.0" cy="381.7" r="1.02"/>
<circle cx="131.0" cy="381.9" r="1.02"/>
<circle cx="164.4" cy="379.3" r="1.02"/>
<circle cx="168.6" cy="378.9" r="1.02"/>
<circle cx="173.0" cy="378.9" r="1.02"/>
<circle cx="162.5" cy="380.7" r="1.02"/>
<circle cx="170.0" cy="380.3" r="1.02"/>
<circle cx="158.0" cy="381.6" r="1.02"/>
<circle cx="160.0" cy="381.9" r="1.02"/>
<circle cx="163.0" cy="381.5" r="1.02"/>
<circle cx="165.0" cy="382.1" r="1.02"/>
<circle cx="167.0" cy="381.1" r="1.02"/>
<circle cx="169.0" cy="381.9" r="1.02"/>
<circle cx="171.0" cy="381.3" r="1.02"/>
<circle cx="173.0" cy="382.1" r="1.02"/>
<circle cx="175.0" cy="381.5" r="1.02"/>
<path d="M73.70 298.20V294.90H164.50V298.20" fill="none" stroke="#2a2a2a" stroke-width="0.85"/>
<text x="119.10" y="292.70" font-size="6.5" text-anchor="middle" textLength="13.52" lengthAdjust="spacingAndGlyphs">0.12</text>
<path d="M119.10 307.40V304.10H164.50V307.40" fill="none" stroke="#2a2a2a" stroke-width="0.85"/>
<text x="141.80" y="301.80" font-size="6.5" text-anchor="middle" textLength="9.66" lengthAdjust="spacingAndGlyphs">0.6</text>
<path d="M73.70 316.50V313.20H119.10V316.50" fill="none" stroke="#2a2a2a" stroke-width="0.85"/>
<text x="96.40" y="310.90" font-size="6.5" text-anchor="middle" textLength="17.39" lengthAdjust="spacingAndGlyphs">0.025</text>
<line x1="46.70" y1="287.00" x2="46.70" y2="388.10" stroke="#000" stroke-width="1.2"/>
<line x1="46.10" y1="387.50" x2="191.70" y2="387.50" stroke="#000" stroke-width="1.2"/>
<line x1="42.40" y1="383.40" x2="46.70" y2="383.40" stroke="#000" stroke-width="0.85"/>
<text x="39.30" y="385.90" font-size="6.9" text-anchor="end">0.0</text>
<line x1="42.40" y1="365.07" x2="46.70" y2="365.07" stroke="#000" stroke-width="0.85"/>
<text x="39.30" y="367.57" font-size="6.9" text-anchor="end">0.1</text>
<line x1="42.40" y1="346.74" x2="46.70" y2="346.74" stroke="#000" stroke-width="0.85"/>
<text x="39.30" y="349.24" font-size="6.9" text-anchor="end">0.2</text>
<line x1="42.40" y1="328.41" x2="46.70" y2="328.41" stroke="#000" stroke-width="0.85"/>
<text x="39.30" y="330.91" font-size="6.9" text-anchor="end">0.3</text>
<line x1="42.40" y1="310.08" x2="46.70" y2="310.08" stroke="#000" stroke-width="0.85"/>
<text x="39.30" y="312.58" font-size="6.9" text-anchor="end">0.4</text>
<line x1="42.40" y1="291.75" x2="46.70" y2="291.75" stroke="#000" stroke-width="0.85"/>
<text x="39.30" y="294.25" font-size="6.9" text-anchor="end">0.5</text>
<line x1="73.70" y1="387.50" x2="73.70" y2="390.80" stroke="#000" stroke-width="0.8"/>
<text x="73.70" y="400.40" font-size="6.45" text-anchor="middle">Patch (A)</text>
<line x1="119.10" y1="387.50" x2="119.10" y2="390.80" stroke="#000" stroke-width="0.8"/>
<text x="119.10" y="400.40" font-size="6.45" text-anchor="middle">Plaque (B)</text>
<line x1="164.50" y1="387.50" x2="164.50" y2="390.80" stroke="#000" stroke-width="0.8"/>
<text x="164.50" y="400.40" font-size="6.45" text-anchor="middle">Tumor (C)</text>
<text x="279.80" y="282.10" font-size="6.45" text-anchor="middle">Mast cells resting</text>
<line x1="234.60" y1="368.10" x2="234.60" y2="374.60" stroke="#111" stroke-width="0.55"/>
<line x1="234.60" y1="381.50" x2="234.60" y2="382.90" stroke="#111" stroke-width="0.55"/>
<rect x="217.50" y="374.60" width="34.2" height="6.90" fill="#F68F14"/>
<line x1="217.50" y1="377.90" x2="251.70" y2="377.90" stroke="#4a2400" stroke-width="0.95"/>
<line x1="280.00" y1="364.90" x2="280.00" y2="372.30" stroke="#111" stroke-width="0.55"/>
<line x1="280.00" y1="381.10" x2="280.00" y2="382.70" stroke="#111" stroke-width="0.55"/>
<rect x="262.90" y="372.30" width="34.2" height="8.80" fill="#2BABE2"/>
<line x1="262.90" y1="376.80" x2="297.10" y2="376.80" stroke="#0f4560" stroke-width="0.95"/>
<line x1="325.40" y1="371.70" x2="325.40" y2="378.20" stroke="#111" stroke-width="0.55"/>
<line x1="325.40" y1="382.80" x2="325.40" y2="383.30" stroke="#111" stroke-width="0.55"/>
<rect x="308.30" y="378.20" width="34.2" height="4.60" fill="#C8102E"/>
<line x1="308.30" y1="381.30" x2="342.50" y2="381.30" stroke="#5e0818" stroke-width="0.95"/>
<circle cx="234.9" cy="346.6" r="1.02"/>
<circle cx="237.8" cy="346.6" r="1.02"/>
<circle cx="234.8" cy="359.1" r="1.02"/>
<circle cx="234.8" cy="360.7" r="1.02"/>
<circle cx="229.0" cy="360.4" r="1.02"/>
<circle cx="244.5" cy="359.1" r="1.02"/>
<circle cx="224.8" cy="368.1" r="1.02"/>
<circle cx="242.5" cy="368.1" r="1.02"/>
<circle cx="237.5" cy="373.8" r="1.02"/>
<circle cx="240.6" cy="375.3" r="1.02"/>
<circle cx="235.2" cy="375.8" r="1.02"/>
<circle cx="227.5" cy="376.4" r="1.02"/>
<circle cx="230.6" cy="376.9" r="1.02"/>
<circle cx="233.7" cy="377.3" r="1.02"/>
<circle cx="238.3" cy="376.4" r="1.02"/>
<circle cx="243.0" cy="378.9" r="1.02"/>
<circle cx="231.4" cy="379.1" r="1.02"/>
<circle cx="236.0" cy="379.5" r="1.02"/>
<circle cx="226.0" cy="380.7" r="1.02"/>
<circle cx="238.3" cy="380.7" r="1.02"/>
<circle cx="234.5" cy="382.3" r="1.02"/>
<circle cx="227.5" cy="383.1" r="1.02"/>
<circle cx="231.4" cy="383.1" r="1.02"/>
<circle cx="238.3" cy="383.1" r="1.02"/>
<circle cx="271.7" cy="365.1" r="1.02"/>
<circle cx="289.4" cy="364.7" r="1.02"/>
<circle cx="279.7" cy="365.1" r="1.02"/>
<circle cx="280.3" cy="366.9" r="1.02"/>
<circle cx="280.9" cy="368.6" r="1.02"/>
<circle cx="281.5" cy="370.1" r="1.02"/>
<circle cx="286.3" cy="370.2" r="1.02"/>
<circle cx="289.2" cy="370.1" r="1.02"/>
<circle cx="270.8" cy="371.4" r="1.02"/>
<circle cx="274.8" cy="372.7" r="1.02"/>
<circle cx="278.4" cy="372.7" r="1.02"/>
<circle cx="269.5" cy="375.3" r="1.02"/>
<circle cx="286.3" cy="375.3" r="1.02"/>
<circle cx="281.9" cy="377.8" r="1.02"/>
<circle cx="283.7" cy="379.3" r="1.02"/>
<circle cx="279.2" cy="379.3" r="1.02"/>
<circle cx="271.3" cy="381.5" r="1.02"/>
<circle cx="289.9" cy="381.1" r="1.02"/>
<circle cx="273.9" cy="382.9" r="1.02"/>
<circle cx="277.0" cy="382.9" r="1.02"/>
<circle cx="280.6" cy="382.9" r="1.02"/>
<circle cx="267.0" cy="376.6" r="1.02"/>
<circle cx="272.5" cy="377.6" r="1.02"/>
<circle cx="276.0" cy="375.9" r="1.02"/>
<circle cx="291.0" cy="377.1" r="1.02"/>
<circle cx="293.0" cy="375.6" r="1.02"/>
<circle cx="275.0" cy="379.9" r="1.02"/>
<circle cx="288.0" cy="378.3" r="1.02"/>
<circle cx="284.0" cy="373.6" r="1.02"/>
<circle cx="314.7" cy="371.7" r="1.02"/>
<circle cx="315.6" cy="374.6" r="1.02"/>
<circle cx="327.2" cy="376.1" r="1.02"/>
<circle cx="328.7" cy="377.4" r="1.02"/>
<circle cx="312.0" cy="381.1" r="1.02"/>
<circle cx="314.0" cy="380.3" r="1.02"/>
<circle cx="316.5" cy="381.6" r="1.02"/>
<circle cx="318.5" cy="380.7" r="1.02"/>
<circle cx="320.5" cy="381.9" r="1.02"/>
<circle cx="322.5" cy="380.5" r="1.02"/>
<circle cx="324.5" cy="381.5" r="1.02"/>
<circle cx="326.5" cy="380.1" r="1.02"/>
<circle cx="328.5" cy="381.7" r="1.02"/>
<circle cx="330.5" cy="380.9" r="1.02"/>
<circle cx="332.5" cy="381.3" r="1.02"/>
<circle cx="335.0" cy="380.6" r="1.02"/>
<circle cx="337.0" cy="381.5" r="1.02"/>
<circle cx="339.0" cy="381.1" r="1.02"/>
<circle cx="322.0" cy="382.9" r="1.02"/>
<circle cx="330.0" cy="382.7" r="1.02"/>
<path d="M234.60 298.20V294.90H325.40V298.20" fill="none" stroke="#2a2a2a" stroke-width="0.85"/>
<text x="280.00" y="292.90" font-size="6.5" text-anchor="middle" textLength="13.52" lengthAdjust="spacingAndGlyphs">0.15</text>
<path d="M280.00 307.40V304.10H325.40V307.40" fill="none" stroke="#2a2a2a" stroke-width="0.85"/>
<text x="302.70" y="302.10" font-size="6.5" text-anchor="middle" textLength="13.52" lengthAdjust="spacingAndGlyphs">0.02</text>
<path d="M234.60 316.50V313.20H280.00V316.50" fill="none" stroke="#2a2a2a" stroke-width="0.85"/>
<text x="257.30" y="311.30" font-size="6.5" text-anchor="middle" textLength="13.52" lengthAdjust="spacingAndGlyphs">0.49</text>
<line x1="207.60" y1="287.00" x2="207.60" y2="388.10" stroke="#000" stroke-width="1.2"/>
<line x1="207.00" y1="387.50" x2="352.60" y2="387.50" stroke="#000" stroke-width="1.2"/>
<line x1="234.60" y1="387.50" x2="234.60" y2="390.80" stroke="#000" stroke-width="0.8"/>
<text x="234.60" y="400.40" font-size="6.45" text-anchor="middle">Patch (A)</text>
<line x1="280.00" y1="387.50" x2="280.00" y2="390.80" stroke="#000" stroke-width="0.8"/>
<text x="280.00" y="400.40" font-size="6.45" text-anchor="middle">Plaque (B)</text>
<line x1="325.40" y1="387.50" x2="325.40" y2="390.80" stroke="#000" stroke-width="0.8"/>
<text x="325.40" y="400.40" font-size="6.45" text-anchor="middle">Tumor (C)</text>
<text x="440.80" y="282.10" font-size="6.45" text-anchor="middle">Mast cells activated</text>
<line x1="395.60" y1="372.10" x2="395.60" y2="377.60" stroke="#111" stroke-width="0.55"/>
<line x1="395.60" y1="383.10" x2="395.60" y2="383.50" stroke="#111" stroke-width="0.55"/>
<rect x="378.50" y="377.60" width="34.2" height="5.50" fill="#F68F14"/>
<line x1="378.50" y1="380.70" x2="412.70" y2="380.70" stroke="#4a2400" stroke-width="0.95"/>
<line x1="441.00" y1="381.30" x2="441.00" y2="381.30" stroke="#111" stroke-width="0.55"/>
<line x1="441.00" y1="382.30" x2="441.00" y2="382.30" stroke="#111" stroke-width="0.55"/>
<rect x="423.90" y="381.30" width="34.2" height="1.00" fill="#2BABE2"/>
<line x1="423.90" y1="381.80" x2="458.10" y2="381.80" stroke="#0f4560" stroke-width="0.7"/>
<line x1="486.40" y1="372.10" x2="486.40" y2="375.70" stroke="#111" stroke-width="0.55"/>
<line x1="486.40" y1="381.30" x2="486.40" y2="383.60" stroke="#111" stroke-width="0.55"/>
<rect x="469.30" y="375.70" width="34.2" height="5.60" fill="#C8102E"/>
<line x1="469.30" y1="378.50" x2="503.50" y2="378.50" stroke="#5e0818" stroke-width="0.95"/>
<circle cx="387.7" cy="374.6" r="1.02"/>
<circle cx="406.8" cy="372.1" r="1.02"/>
<circle cx="406.8" cy="374.6" r="1.02"/>
<circle cx="398.5" cy="376.7" r="1.02"/>
<circle cx="392.0" cy="377.6" r="1.02"/>
<circle cx="395.0" cy="378.6" r="1.02"/>
<circle cx="384.0" cy="380.1" r="1.02"/>
<circle cx="386.0" cy="381.3" r="1.02"/>
<circle cx="388.5" cy="379.6" r="1.02"/>
<circle cx="390.5" cy="381.1" r="1.02"/>
<circle cx="393.0" cy="380.1" r="1.02"/>
<circle cx="395.5" cy="381.6" r="1.02"/>
<circle cx="397.0" cy="379.3" r="1.02"/>
<circle cx="399.0" cy="381.1" r="1.02"/>
<circle cx="401.0" cy="380.3" r="1.02"/>
<circle cx="403.0" cy="381.7" r="1.02"/>
<circle cx="405.0" cy="379.9" r="1.02"/>
<circle cx="407.0" cy="381.3" r="1.02"/>
<circle cx="409.0" cy="380.6" r="1.02"/>
<circle cx="391.0" cy="383.1" r="1.02"/>
<circle cx="396.0" cy="383.5" r="1.02"/>
<circle cx="402.0" cy="383.3" r="1.02"/>
<circle cx="400.0" cy="378.1" r="1.02"/>
<circle cx="431.2" cy="375.1" r="1.02"/>
<circle cx="441.2" cy="375.1" r="1.02"/>
<circle cx="432.5" cy="378.1" r="1.02"/>
<circle cx="442.0" cy="378.1" r="1.02"/>
<circle cx="437.0" cy="380.6" r="1.02"/>
<circle cx="445.0" cy="379.1" r="1.02"/>
<circle cx="430.0" cy="380.6" r="1.02"/>
<circle cx="428.0" cy="381.7" r="1.02"/>
<circle cx="431.0" cy="382.1" r="1.02"/>
<circle cx="434.0" cy="381.3" r="1.02"/>
<circle cx="436.0" cy="382.3" r="1.02"/>
<circle cx="439.0" cy="381.1" r="1.02"/>
<circle cx="441.0" cy="382.1" r="1.02"/>
<circle cx="443.0" cy="381.5" r="1.02"/>
<circle cx="446.0" cy="382.1" r="1.02"/>
<circle cx="448.0" cy="381.3" r="1.02"/>
<circle cx="451.0" cy="381.9" r="1.02"/>
<circle cx="453.0" cy="381.7" r="1.02"/>
<circle cx="477.0" cy="366.1" r="1.02"/>
<circle cx="486.2" cy="366.1" r="1.02"/>
<circle cx="477.0" cy="372.6" r="1.02"/>
<circle cx="485.0" cy="383.6" r="1.02"/>
<circle cx="473.0" cy="378.1" r="1.02"/>
<circle cx="475.0" cy="379.6" r="1.02"/>
<circle cx="477.5" cy="377.1" r="1.02"/>
<circle cx="479.5" cy="378.9" r="1.02"/>
<circle cx="481.5" cy="377.6" r="1.02"/>
<circle cx="483.5" cy="379.3" r="1.02"/>
<circle cx="485.5" cy="376.6" r="1.02"/>
<circle cx="487.5" cy="378.7" r="1.02"/>
<circle cx="489.5" cy="377.3" r="1.02"/>
<circle cx="491.5" cy="379.1" r="1.02"/>
<circle cx="493.5" cy="377.9" r="1.02"/>
<circle cx="495.5" cy="378.6" r="1.02"/>
<circle cx="497.5" cy="377.1" r="1.02"/>
<circle cx="499.5" cy="378.9" r="1.02"/>
<circle cx="488.0" cy="374.6" r="1.02"/>
<circle cx="492.0" cy="375.1" r="1.02"/>
<circle cx="484.0" cy="381.6" r="1.02"/>
<circle cx="490.0" cy="381.1" r="1.02"/>
<path d="M395.60 298.20V294.90H486.40V298.20" fill="none" stroke="#2a2a2a" stroke-width="0.85"/>
<text x="441.00" y="293.10" font-size="6.5" text-anchor="middle" textLength="17.39" lengthAdjust="spacingAndGlyphs">0.078</text>
<path d="M441.00 307.40V304.10H486.40V307.40" fill="none" stroke="#2a2a2a" stroke-width="0.85"/>
<text x="463.70" y="302.10" font-size="6.5" text-anchor="middle" textLength="21.25" lengthAdjust="spacingAndGlyphs">0.0034</text>
<path d="M395.60 316.50V313.20H441.00V316.50" fill="none" stroke="#2a2a2a" stroke-width="0.85"/>
<text x="418.30" y="311.30" font-size="6.5" text-anchor="middle" textLength="13.52" lengthAdjust="spacingAndGlyphs">0.24</text>
<line x1="368.60" y1="287.00" x2="368.60" y2="388.10" stroke="#000" stroke-width="1.2"/>
<line x1="368.00" y1="387.50" x2="513.60" y2="387.50" stroke="#000" stroke-width="1.2"/>
<line x1="395.60" y1="387.50" x2="395.60" y2="390.80" stroke="#000" stroke-width="0.8"/>
<text x="395.60" y="400.40" font-size="6.45" text-anchor="middle">Patch (A)</text>
<line x1="441.00" y1="387.50" x2="441.00" y2="390.80" stroke="#000" stroke-width="0.8"/>
<text x="441.00" y="400.40" font-size="6.45" text-anchor="middle">Plaque (B)</text>
<line x1="486.40" y1="387.50" x2="486.40" y2="390.80" stroke="#000" stroke-width="0.8"/>
<text x="486.40" y="400.40" font-size="6.45" text-anchor="middle">Tumor (C)</text>
<line x1="215.4" y1="409" x2="215.4" y2="417.2" stroke="#222" stroke-width="0.5"/><rect x="210.6" y="410.6" width="9.6" height="4.8" fill="#F68F14"/><line x1="210.6" y1="413" x2="220.2" y2="413" stroke="#4a2400" stroke-width="0.8"/><circle cx="215.4" cy="413" r="0.9"/>
<line x1="261.90000000000003" y1="409" x2="261.90000000000003" y2="417.2" stroke="#222" stroke-width="0.5"/><rect x="257.1" y="410.6" width="9.6" height="4.8" fill="#2BABE2"/><line x1="257.1" y1="413" x2="266.70000000000005" y2="413" stroke="#0f4560" stroke-width="0.8"/><circle cx="261.90000000000003" cy="413" r="0.9"/>
<line x1="311.2" y1="409" x2="311.2" y2="417.2" stroke="#222" stroke-width="0.5"/><rect x="306.4" y="410.6" width="9.6" height="4.8" fill="#C8102E"/><line x1="306.4" y1="413" x2="316.0" y2="413" stroke="#5e0818" stroke-width="0.8"/><circle cx="311.2" cy="413" r="0.9"/>
<text x="223.8" y="415.3" font-size="6.35">Patch (A)</text>
<text x="270.2" y="415.3" font-size="6.35">Plaque (B)</text>
<text x="320.2" y="415.3" font-size="6.35">Tumor (C)</text>
</g>
</svg></body></html>
